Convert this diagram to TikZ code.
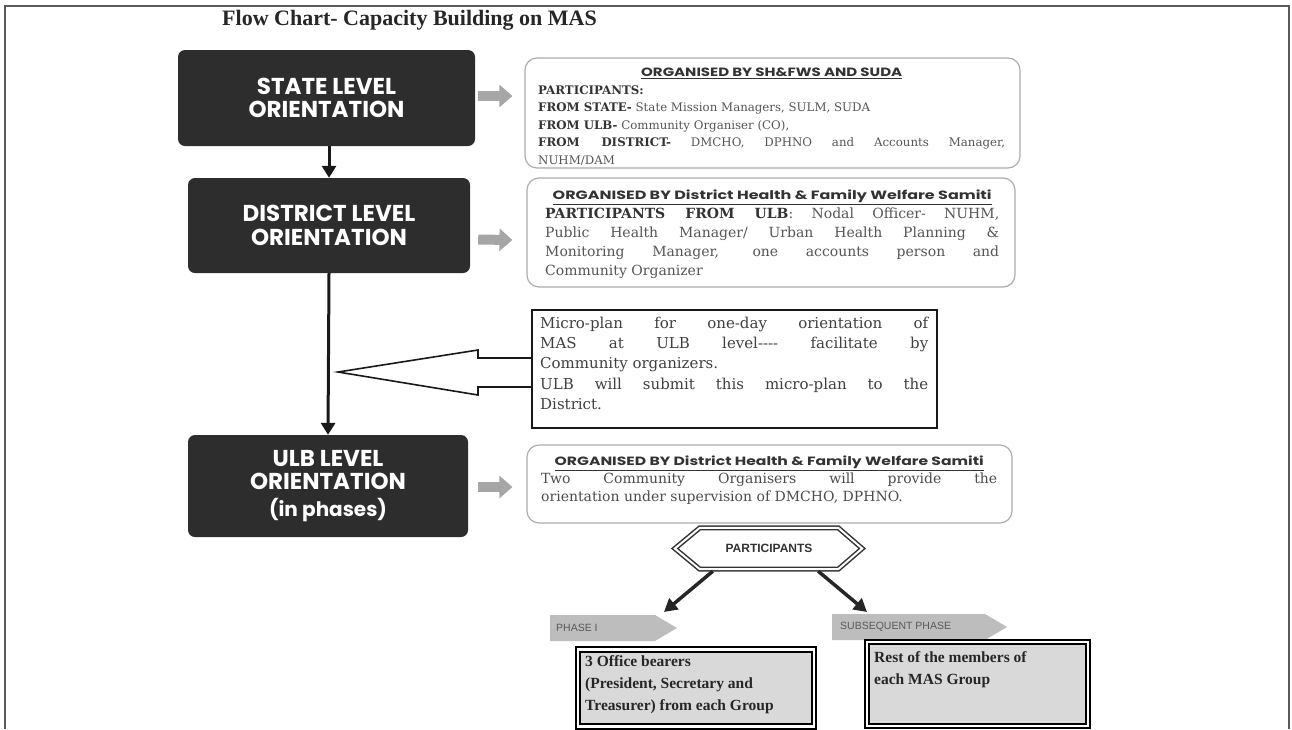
\documentclass[tikz,border=0pt]{standalone}
\usepackage{fontspec}
\usepackage{graphicx}
\setmainfont{DejaVu Serif}
\newfontfamily\hdfont{Poppins}
\newfontfamily\tmfont{Liberation Serif}
\newfontfamily\lsfont{Liberation Sans}
\usetikzlibrary{arrows.meta,calc}
\definecolor{darkbox}{HTML}{2D2D2D}
\definecolor{bodygray}{HTML}{555555}
\definecolor{labgray}{HTML}{333333}
\definecolor{taggray}{HTML}{BDBDBD}
\definecolor{fillgray}{HTML}{D9D9D9}
\definecolor{framegray}{HTML}{5A5A5A}
\newcommand\hdg[2]{\centerline{\color{labgray}\hdfont\bfseries\fontsize{12}{14}\selectfont\scalebox{#1}[1]{\underline{#2}}}\par}
\newcommand\lab[1]{{\bfseries\color{labgray}#1}}
\begin{document}
\begin{tikzpicture}[x=1pt,y=-1pt,
  level/.style={fill=darkbox, rounded corners=7pt, text=white, align=center, inner sep=0pt,
    font=\hdfont\bfseries\fontsize{23}{23.5}\selectfont},
  conn/.style={line width=3pt, draw=black!90, -{Triangle[length=12pt,width=14pt]}},
  conntwo/.style={line width=3.5pt, draw=black!85, -{Triangle[length=13pt,width=14pt]}},
  blockarr/.style={line width=10pt, draw=gray!70, -{Triangle[length=13pt,width=22pt]}},
  infobox/.style={draw=gray!65, line width=1.2pt, rounded corners=12pt, fill=white, inner sep=0pt},
  infotext/.style={anchor=north west, inner sep=0pt, align=justify, text=bodygray},
  tagshape/.style={fill=taggray},
  tagtext/.style={anchor=west, inner sep=0pt, text=black!65, font=\lsfont\fontsize{10.5}{12}\selectfont},
  dbox/.style={draw=black, line width=2.2pt, double=white, double distance=2.5pt, fill=fillgray, inner sep=0pt},
  dtext/.style={anchor=north west, inner sep=0pt, align=left, text=black!85, font=\tmfont\bfseries\fontsize{15.5}{22}\selectfont}]
\useasboundingbox (0,0) rectangle (1292,729);
% frame
\draw[line width=1.3pt, framegray] (5,729) -- (5,6) -- (1289,6) -- (1289,729);
% title
\node[anchor=base west, inner sep=0pt, text=black!85, font=\tmfont\bfseries\fontsize{22}{24}\selectfont] (title) at (222,25) {Flow Chart- Capacity Building on MAS};
% level boxes
\node[level, minimum width=297pt, minimum height=96pt] (state) at (326.5,98) {STATE LEVEL\\ORIENTATION};
\node[level, minimum width=282pt, minimum height=95pt] (district) at (329,225.5) {DISTRICT LEVEL\\ORIENTATION};
\node[level, minimum width=280pt, minimum height=102pt] (ulb) at (328,486) {ULB LEVEL\\ORIENTATION\\[3pt]{\fontsize{20}{22}\selectfont(in phases)}};
\draw[conn] (state.south -| district.center) -- (district.north);
\draw[conn] (district.south) -- (ulb.north);
% info boxes
\node[infobox, minimum width=495pt, minimum height=110pt] (b1) at (772.5,113) {};
\node[infotext, text width=467pt, font=\fontsize{11.8}{17.5}\selectfont] (t1) at (538,68) {\hdg{1.25}{ORGANISED BY SH\&FWS AND SUDA}\lab{PARTICIPANTS:}\\
\lab{FROM STATE-} State Mission Managers, SULM, SUDA\\
\lab{FROM ULB-} Community Organiser (CO),\\
\lab{FROM DISTRICT-} DMCHO, DPHNO and Accounts Manager,\linebreak NUHM/DAM};
\node[infobox, minimum width=488pt, minimum height=109pt] (b2) at (771,232.5) {};
\node[infotext, text width=454pt, font=\fontsize{14}{19}\selectfont] (t2) at (545,190) {\hdg{1.33}{ORGANISED BY District Health \& Family Welfare Samiti}\lab{PARTICIPANTS FROM ULB}: Nodal Officer- NUHM,\linebreak Public Health Manager/ Urban Health Planning \&\linebreak Monitoring Manager, one accounts person and\linebreak Community Organizer};
\node[infobox, minimum width=485pt, minimum height=78pt] (b3) at (769.5,484) {};
\node[infotext, text width=456pt, text=black!70, font=\fontsize{14}{18}\selectfont] (t3) at (541,456) {\hdg{1.3}{ORGANISED BY District Health \& Family Welfare Samiti}Two Community Organisers will provide the\linebreak orientation under supervision of DMCHO, DPHNO.};
% gray block arrows
\draw[blockarr] ([xshift=3pt,yshift=2pt]state.east) -- ([xshift=-12pt,yshift=17pt]b1.west);
\draw[blockarr] ([xshift=8pt,yshift=-14pt]district.east) -- ([xshift=-14pt,yshift=-7.5pt]b2.west);
\draw[blockarr] ([xshift=10pt,yshift=-1pt]ulb.east) -- ([xshift=-14pt,yshift=-3pt]b3.west);
% micro-plan box and callout
\node[draw=black!90, line width=2.3pt, fill=white, minimum width=405pt, minimum height=118pt, inner sep=0pt] (mp) at (734.5,369) {};
\node[anchor=north west, text width=388pt, align=justify, inner sep=0pt, text=black!75, font=\fontsize{15}{20.3}\selectfont] (mpt) at (540,316.5) {Micro-plan for one-day orientation of\linebreak MAS at ULB level-{}-{}-{}- facilitate by\linebreak Community organizers.\\ULB will submit this micro-plan to the\linebreak District.};
\draw[line width=1.6pt, fill=white, draw=black!90] ([yshift=11pt]mp.west) -- (478,358) -- (478,350) -- (338,372) -- (478,395) -- (478,387) -- ([yshift=-18pt]mp.west);
% participants hexagon
\node[inner sep=0pt, minimum width=138pt, minimum height=41pt, font=\lsfont\bfseries\fontsize{12}{14}\selectfont, text=black!80] (hex) at (769,548.5) {PARTICIPANTS};
\draw[draw=black!80, line width=1.5pt, double=white, double distance=2pt] ($(hex.west)+(-25,0)$) -- (hex.north west) -- (hex.north east) -- ($(hex.east)+(24,0)$) -- (hex.south east) -- (hex.south west) -- cycle;
% tags
\path[tagshape] (550,615) -- (655,615) -- (677,628) -- (655,641) -- (550,641) -- cycle;
\node[tagtext] (ph1) at (556,628) {PHASE I};
\path[tagshape] (832,614) -- (985,614) -- (1007,627) -- (985,640) -- (832,640) -- cycle;
\node[tagtext] (ph2) at (840,627) {SUBSEQUENT PHASE};
\coordinate (e1) at (664,612);
\coordinate (e2) at (867,612);
\draw[conntwo] ([xshift=13pt,yshift=-2pt]hex.south west) -- (e1);
\draw[conntwo] ([xshift=-20pt,yshift=-2pt]hex.south east) -- (e2);
% bottom boxes
\node[dbox, minimum width=236pt, minimum height=77pt] (ba) at (696,688) {};
\node[dtext] (bat) at (585,655) {3 Office bearers\\(President, Secretary and\\Treasurer) from each Group};
\node[dbox, minimum width=221pt, minimum height=84pt] (bb) at (977.5,684) {};
\node[dtext] (bbt) at (874,651) {Rest of the members of\\each MAS Group};
\end{tikzpicture}
\end{document}
